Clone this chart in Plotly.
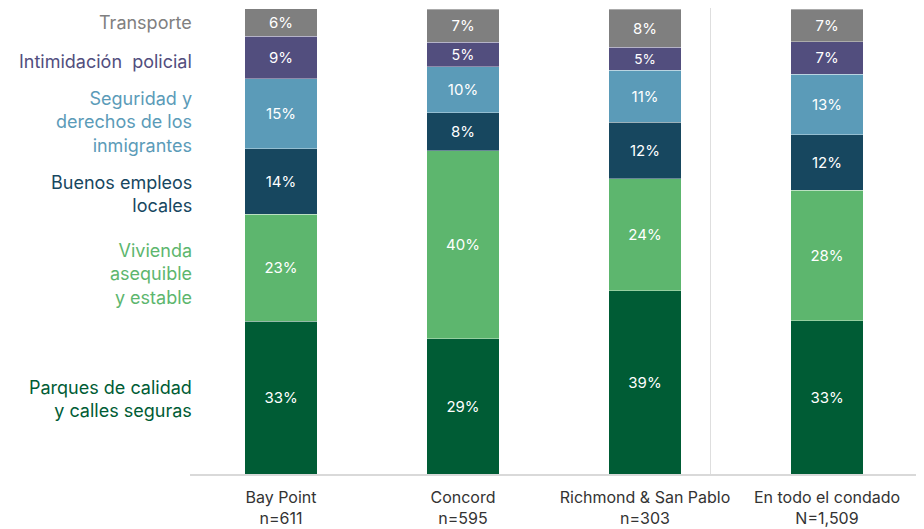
import plotly.graph_objects as go

categories = ["Bay Point<br>n=611", "Concord<br>n=595", "Richmond & San Pablo<br>n=303", "En todo el condado<br>N=1,509"]

series_names = ["Parques de calidad<br>y calles seguras", "Vivienda<br>asequible<br>y estable",
                "Buenos empleos<br>locales", "Seguridad y<br>derechos de los<br>inmigrantes",
                "Intimidación  policial", "Transporte"]

parques = [32.8, 29.1, 39.4, 33.0]
vivienda = [23.1, 40.4, 24.1, 28.0]
empleos = [14.0, 8.2, 12.1, 12.0]
seguridad = [15.1, 9.9, 11.2, 13.0]
intimidacion = [9.1, 5.2, 5.0, 7.0]
transporte = [6.0, 7.2, 8.2, 7.0]

series_values = [parques, vivienda, empleos, seguridad, intimidacion, transporte]
colors = ["#005c35", "#5db66e", "#17475f", "#5b9bb8", "#524e7e", "#7f7f7f"]
label_colors = ["#005c35", "#5db66e", "#17475f", "#5b9bb8", "#524e7e", "#808080"]
label_y = [16.2, 43.1, 60.3, 75.6, 88.8, 97.2]

font_family = "Inter, Lato, sans-serif"

fig = go.Figure()
for name, vals, col in zip(series_names, series_values, colors):
    fig.add_trace(go.Bar(
        x=categories, y=vals, name=name,
        marker=dict(color=col, line=dict(color="rgba(255,255,255,0.35)", width=1)),
        texttemplate="%{y:.0f}%", textposition="inside", insidetextanchor="middle",
        textfont=dict(color="white", size=15, family=font_family),
        showlegend=False,
    ))

for name, yv, col in zip(series_names, label_y, label_colors):
    fig.add_annotation(
        text=name, x=0, xref="paper", y=yv, yref="y",
        xanchor="right", yanchor="middle", align="right", showarrow=False,
        font=dict(size=18, color=col, family=font_family), xshift=4,
    )

fig.add_shape(type="line", xref="x", x0=2.36, x1=2.36, yref="paper", y0=0, y1=1.02,
              line=dict(color="#dedede", width=1))

fig.update_layout(
    width=916, height=521,
    margin=dict(l=182, r=6, t=1, b=48),
    barmode="stack", bargap=0.604,
    plot_bgcolor="white", paper_bgcolor="white",
    font=dict(family=font_family),
    xaxis=dict(showline=True, linecolor="#d9d9d9", linewidth=1.5, showgrid=False,
               tickfont=dict(size=16, color="#333333", family=font_family), ticks="",
               ticklabelstandoff=8),
    yaxis=dict(range=[0, 100], visible=False, showgrid=False),
)

fig.write_html("out.html")
